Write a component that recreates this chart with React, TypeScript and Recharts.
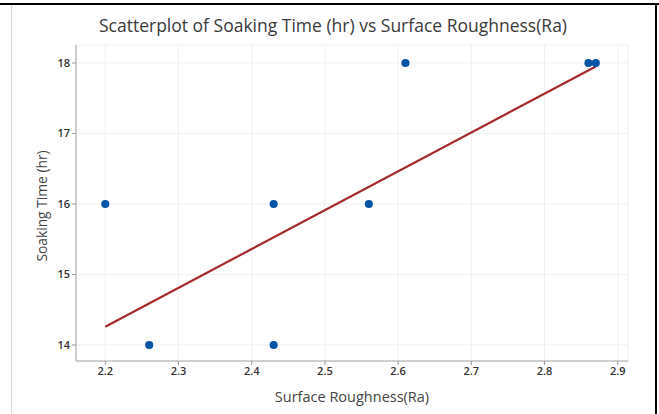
import { Scatter, XAxis, YAxis, ZAxis, CartesianGrid, Line, ComposedChart } from "recharts";

// observed points
const roughness = [2.2, 2.26, 2.43, 2.43, 2.56, 2.61, 2.86, 2.87];
const soakTime = [16, 14, 16, 14, 16, 18, 18, 18];

// fitted line end points
const fitX = [2.2, 2.87];
const fitY = [14.26, 17.95];

const xTicks = [2.2, 2.3, 2.4, 2.5, 2.6, 2.7, 2.8, 2.9];
const yTicks = [14, 15, 16, 17, 18];

const points = roughness.map((x, i) => ({ x, y: soakTime[i] }));
const fit = fitX.map((x, i) => ({ x, y: fitY[i] }));

const FONT = "'Open Sans', 'Noto Sans', sans-serif";
const TICK = { fontSize: 11, fill: "#333", fontFamily: FONT, fontWeight: 600 };

export default function App() {
  return (
    <div style={{ position: "absolute", left: 0, top: 0, width: 659, height: 414, background: "#fff", fontFamily: FONT }}>
      {/* frame lines of the screenshot */}
      <div style={{ position: "absolute", left: 0, top: 3, width: 659, height: 2, background: "#000" }} />
      <div style={{ position: "absolute", left: 655, top: 3, width: 2, height: 411, background: "#000" }} />
      <div style={{ position: "absolute", left: 11, top: 5, width: 1, height: 409, background: "#d9d9d9" }} />
      <div style={{ position: "absolute", left: 96, top: 13, width: 474, textAlign: "center", fontSize: 17.5, color: "#3a3a3a", whiteSpace: "nowrap" }}>
        Scatterplot of Soaking Time (hr) vs Surface Roughness(Ra)
      </div>
      <ComposedChart
        width={659}
        height={414}
        margin={{ top: 45, right: 31, bottom: 0, left: 0 }}
        style={{ position: "absolute", left: 0, top: 0 }}
      >
        <CartesianGrid stroke="#f0f0f0" strokeWidth={1} />
        <XAxis
          type="number"
          dataKey="x"
          domain={[2.16, 2.914]}
          ticks={xTicks}
          tickFormatter={(v: number) => v.toFixed(1)}
          tick={TICK}
          tickSize={4}
          tickLine={{ stroke: "#999" }}
          axisLine={{ stroke: "#a6a6a6" }}
          height={53}
          allowDataOverflow
          label={{
            content: ({ viewBox }: any) => (
              <text x={viewBox.x + viewBox.width / 2} y={402} textAnchor="middle" fontSize={14.5} fill="#444" fontFamily={FONT}>
                Surface Roughness(Ra)
              </text>
            ),
          }}
        />
        <YAxis
          type="number"
          dataKey="y"
          domain={[13.773, 18.255]}
          ticks={yTicks}
          tick={TICK}
          tickSize={4}
          tickLine={{ stroke: "#999" }}
          axisLine={{ stroke: "#a6a6a6" }}
          width={76}
          allowDataOverflow
          label={{
            content: ({ viewBox }: any) => (
              <text
                x={47}
                y={206}
                textAnchor="middle"
                fontSize={13.8}
                fill="#444"
                fontFamily={FONT}
                transform="rotate(-90, 47, 206)"
              >
                Soaking Time (hr)
              </text>
            ),
          }}
        />
        <ZAxis range={[52, 52]} />
        {/* right and top edges of the plot frame */}
        <XAxis xAxisId="top" orientation="top" type="number" domain={[0, 1]} tick={false} tickLine={false} axisLine={{ stroke: "#a6a6a6" }} height={0} />
        <YAxis yAxisId="right" orientation="right" type="number" domain={[0, 1]} tick={false} tickLine={false} axisLine={{ stroke: "#a6a6a6" }} width={0} />
        <Line data={fit} dataKey="y" type="linear" stroke="#a52a2a" strokeWidth={2.2} dot={false} isAnimationActive={false} />
        <Scatter data={points} fill="#0054a6" shape="circle" isAnimationActive={false} />
      </ComposedChart>
    </div>
  );
}
